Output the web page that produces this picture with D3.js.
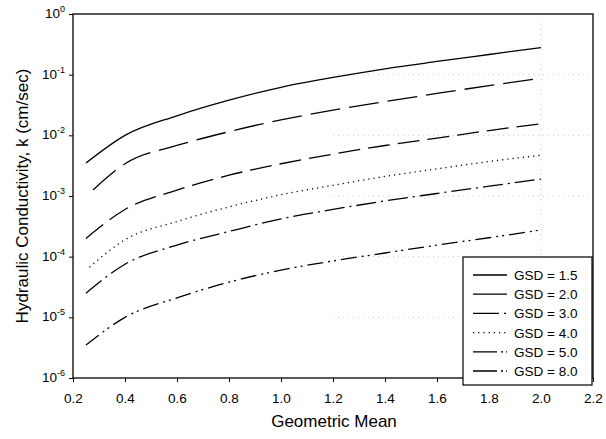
<!DOCTYPE html>
<html>
<head>
<meta charset="utf-8">
<script src="https://cdn.jsdelivr.net/npm/d3@7"></script>
<style>
  body { margin: 0; background: #fff; }
  svg { display: block; font-family: "Liberation Sans", Arial, sans-serif; }
</style>
</head>
<body>
<svg id="chart" width="606" height="439"></svg>
<script>
// ---- data ----
const xValues = [0.25, 0.4, 0.6, 0.8, 1.0, 1.2, 1.4, 1.6, 1.8, 2.0];
const xValuesGsd2 = [0.277, 0.4, 0.6, 0.8, 1.0, 1.2, 1.4, 1.6, 1.8, 2.0];
const xValuesGsd4 = [0.263, 0.4, 0.6, 0.8, 1.0, 1.2, 1.4, 1.6, 1.8, 2.0];
const gsd15 = [3.5e-3, 1.0e-2, 2.1e-2, 3.8e-2, 6.2e-2, 9.0e-2, 0.125, 0.165, 0.215, 0.28];
const gsd20 = [1.26e-3, 3.4e-3, 6.8e-3, 1.15e-2, 1.8e-2, 2.6e-2, 3.6e-2, 4.9e-2, 6.6e-2, 8.7e-2];
const gsd30 = [2.0e-4, 6.0e-4, 1.25e-3, 2.2e-3, 3.4e-3, 4.9e-3, 6.8e-3, 9.0e-3, 1.2e-2, 1.55e-2];
const gsd40 = [6.7e-5, 1.9e-4, 3.8e-4, 6.6e-4, 1.05e-3, 1.5e-3, 2.1e-3, 2.8e-3, 3.7e-3, 4.7e-3];
const gsd50 = [2.5e-5, 7.5e-5, 1.55e-4, 2.6e-4, 4.2e-4, 6.0e-4, 8.3e-4, 1.1e-3, 1.45e-3, 1.9e-3];
const gsd80 = [3.5e-6, 1.0e-5, 2.1e-5, 3.8e-5, 6.0e-5, 8.5e-5, 1.15e-4, 1.55e-4, 2.05e-4, 2.76e-4];
const seriesNames = ["GSD = 1.5", "GSD = 2.0", "GSD = 3.0", "GSD = 4.0", "GSD = 5.0", "GSD = 8.0"];
const xTicks = [0.2, 0.4, 0.6, 0.8, 1.0, 1.2, 1.4, 1.6, 1.8, 2.0, 2.2];
const yExponents = [0, -1, -2, -3, -4, -5, -6];

const series = [
  { name: seriesNames[0], x: xValues, y: gsd15, dash: null, legendDash: null },
  { name: seriesNames[1], x: xValuesGsd2, y: gsd20, dash: "30,9", legendDash: null },
  { name: seriesNames[2], x: xValues, y: gsd30, dash: "22,8", legendDash: "26,5,2,5" },
  { name: seriesNames[3], x: xValuesGsd4, y: gsd40, dash: "1.2,4", legendDash: "1.2,4" },
  { name: seriesNames[4], x: xValues, y: gsd50, dash: "20,5,2,5", legendDash: "24,4,2,3,2,4" },
  { name: seriesNames[5], x: xValues, y: gsd80, dash: "16,5,2,4,2,5", legendDash: "24,4,2,3,2,4" }
];

// ---- layout ----
const svg = d3.select("#chart");
const mLeft = 73, mRight = 593, mTop = 14, mBottom = 378;
const x = d3.scaleLinear().domain([0.2, 2.2]).range([mLeft, mRight]);
const y = d3.scaleLog().domain([1e-6, 1]).range([mBottom, mTop]);

// faint gridlines (scan remnants)
const grid = svg.append("g").attr("stroke", "#ccc").attr("stroke-width", 1).attr("stroke-dasharray", "1,4");
grid.append("line").attr("x1", x(2.0)).attr("x2", x(2.0)).attr("y1", mTop).attr("y2", mBottom);
yExponents.slice(1, 6).forEach(e => {
  grid.append("line").attr("x1", x(1.2)).attr("x2", mRight).attr("y1", y(Math.pow(10, e))).attr("y2", y(Math.pow(10, e)));
});

// axes
const xAxis = d3.axisBottom(x).tickValues(xTicks).tickSize(4).tickFormat(d3.format(".1f"));
const gx = svg.append("g").attr("transform", `translate(0,${mBottom})`).call(xAxis);
gx.select(".domain").remove();
gx.selectAll(".tick line").attr("stroke", "#000");
gx.selectAll(".tick text").attr("font-size", 13.5).attr("fill", "#000").attr("dy", "1.35em")
  .attr("font-family", "'Liberation Sans', Arial, sans-serif");

const yAxis = d3.axisLeft(y).tickValues(yExponents.map(e => Math.pow(10, e))).tickSize(4).tickFormat("");
const gy = svg.append("g").attr("transform", `translate(${mLeft},0)`).call(yAxis);
gy.select(".domain").remove();
gy.selectAll(".tick line").attr("stroke", "#000");

// y tick labels with superscripts
yExponents.forEach(e => {
  const t = svg.append("text").attr("x", mLeft - 8).attr("y", y(Math.pow(10, e)) + 4)
    .attr("text-anchor", "end").attr("font-size", 13.5).attr("fill", "#000");
  t.append("tspan").text("10");
  t.append("tspan").attr("font-size", 9).attr("dy", -6).text(String(e));
});

// frame
svg.append("rect").attr("x", mLeft).attr("y", mTop).attr("width", mRight - mLeft).attr("height", mBottom - mTop)
  .attr("fill", "none").attr("stroke", "#000").attr("stroke-width", 1.3);

// lines
const line = d3.line().x(d => x(d[0])).y(d => y(d[1])).curve(d3.curveMonotoneX);
series.forEach(s => {
  svg.append("path").datum(s.x.map((v, i) => [v, s.y[i]]))
    .attr("d", line).attr("fill", "none").attr("stroke", "#000").attr("stroke-width", 1.3)
    .attr("stroke-dasharray", s.dash);
});

// legend
const lg = svg.append("g");
lg.append("rect").attr("x", 463).attr("y", 257).attr("width", 129).attr("height", 128)
  .attr("fill", "#fff").attr("stroke", "#000").attr("stroke-width", 1.2);
series.forEach((s, i) => {
  const yy = 275 + i * 19.2;
  lg.append("line").attr("x1", 473).attr("x2", 507).attr("y1", yy).attr("y2", yy)
    .attr("stroke", "#000").attr("stroke-width", 1.3)
    .attr("stroke-dasharray", s.legendDash);
  lg.append("text").attr("x", 514).attr("y", yy + 5).attr("font-size", 13.5).attr("fill", "#000").text(s.name);
});

// axis titles
svg.append("text").attr("x", 334).attr("y", 427).attr("text-anchor", "middle")
  .attr("font-size", 17).attr("fill", "#000").text("Geometric Mean");
svg.append("text").attr("transform", `translate(28,${(mTop + mBottom) / 2}) rotate(-90)`)
  .attr("text-anchor", "middle").attr("font-size", 17).attr("fill", "#000")
  .text("Hydraulic Conductivity, k (cm/sec)");
</script>
</body>
</html>
